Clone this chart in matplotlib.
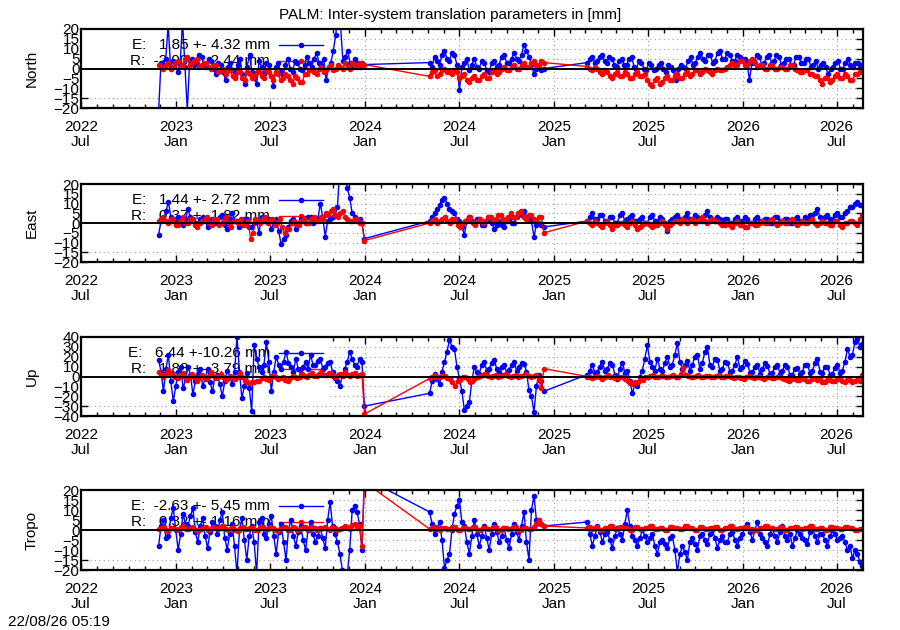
#!/usr/bin/env python

import numpy as np
import pandas as pd
import matplotlib

matplotlib.use("Agg")
import matplotlib.pyplot as plt
import matplotlib.dates as mdates
from matplotlib.dates import DateFormatter
from matplotlib.patches import Rectangle

plt.rcParams["font.family"] = ["Liberation Sans", "DejaVu Sans"]

# segment bounds (data gaps between them)
seg_a = ("2022-11-28", "2023-12-31")
seg_b = ("2024-05-05", "2024-12-12")
seg_c = ("2025-03-06", "2026-08-20")

# ---- North
north_e_a = [-22, 3, 2, 5, 22, 1, 4, 3, -2, 2, 24, 1, -21, 4, 5, 2, 3, 7, 6, 2, 1, 5, 4, 0, -3, 3, 2,
             -2, -6, 1, 3, -1, -4, 2, 5, -3, -8, 1, 7, -2, -5, -8, 4, 1, -3, 3, 2, -4, -9, 1, 3, -2,
             -4, 2, 5, 0, -2, 4, 3, 0, -1, 2, 6, 3, 1, 5, 8, 3, 2, 5, -6, 1, 3, 9, 17, 28, 22, 4, 6,
             9, 3, 2, 5, 3, 1, 3, 2]
north_r_a = [2, 1, 0, 2, 3, 0, 1, 3, 4, 1, 2, 5, 6, 2, 3, 4, 5, 1, 2, 3, 3, 1, 0, 2, 2, -2, -1, 0,
             -3, -1, -1, -4, -5, -2, -2, -5, -6, -2, -3, -5, -4, -2, -2, -4, -5, -1, -2, -4, -6, -2,
             -3, -6, -5, -3, -4, -6, -8, -4, -5, -7, -7, -3, -3, -1, -1, -2, -3, 0, 1, -2, -1, 1, 2,
             -1, 0, 2, 1, 0, 3, 1, 0, 3, 2, 1, 3, 2, 2]
north_e_b = [3, 1, 6, 4, 2, 7, 9, 5, 4, 8, 7, 2, -11, 1, 3, 5, -1, 2, 5, 1, 0, 4, 3, -1, -2, 3, 4,
             1, 2, 6, 7, 3, 3, 5, 8, 5, 4, 7, 12, 9, 6, 2, -3, 0, 1, -1, 0]
north_r_b = [-4, -2, -1, -4, -3, -1, 0, -2, -2, -3, -1, -2, -5, -4, -3, -6, -7, -5, -4, -6, -6, -4,
             -3, -5, -5, -2, -1, -3, -2, 0, 1, -1, -1, 1, 2, 0, 0, 2, 3, 1, 1, 3, 4, 2, 2, 4, 3]
north_e_c = [3, 5, 6, 3, 4, 6, 7, 4, 3, 6, 5, 2, 1, 4, 5, 2, 2, 5, 6, 1, 0, 4, 3, 0, -1, 3, 2, -1,
             0, 2, 3, 0, -2, 2, 1, -1, -6, 0, 2, 1, 0, 4, 6, 2, 3, 6, 8, 5, 4, 7, 7, 3, 4, 8, 9, 5,
             5, 8, 7, 4, 4, 7, 6, 5, 5, 3, -6, 3, 4, 7, 6, 2, 3, 6, 7, 3, 4, 7, 6, 2, 3, 5, 5, 2,
             2, 6, 6, 3, 3, 5, 5, 1, 2, 4, 0, 2, 3, 1, -3, 0, 1, 3, 4, 0, 0, 3, 5, 2, 1, 3, 3, 1, 2]
north_r_c = [1, 0, -1, 1, 0, -2, -3, -1, -2, -4, -5, -3, -2, -4, -4, -2, -3, -5, -5, -3, -2, -4, -4,
             -3, -6, -8, -9, -6, -5, -8, -7, -5, -4, -6, -6, -4, -3, -5, -5, -3, -2, -4, -3, -1, -1,
             -3, -2, 0, -1, -2, -3, -1, 0, -1, -1, 0, 1, 2, 3, 1, 2, 4, 4, 2, 2, 4, 5, 3, 1, 2, 2,
             0, 0, 2, 2, 0, 0, 1, 1, 0, 0, 2, 2, 0, -1, -2, -2, -1, -1, -3, -3, -4, -4, -6, -8, -5,
             -5, -7, -6, -4, -3, -5, -5, -3, -4, -6, -6, -3, -3, -2, -2]

# ---- East
east_e_a = [-6, 1, 2, 6, 11, 3, 1, 2, 3, 0, -1, 2, 7, 3, 2, 0, 0, 2, 3, 1, -2, 1, 2, 0, 0, 3, 4, -1,
            -3, 2, 5, 1, 1, -2, -1, 2, 2, -2, -2, 0, 1, -5, 3, 1, 1, 2, -3, 0, 2, -4, -11, -8, -6,
            -2, 1, 2, -3, 0, 2, 1, 0, 3, 3, 0, 1, 2, 10, 3, -7, 1, 2, 3, 4, 8, 30, 35, 25, 18, 13,
            5, 3, 1, 2, 0, -8]
east_r_a = [1, 2, 3, 1, 0, 2, 2, -1, -1, 1, 3, 0, 0, 2, 2, -1, -2, 0, 1, 2, 3, 0, -1, 2, 2, -1, 0,
            1, 3, 0, -2, 1, 1, 0, 2, -1, -1, 1, -8, -5, 2, 1, 0, 2, 3, 0, 1, 2, -1, 0, 2, -2, -5,
            -3, -3, 0, 1, -1, -1, 1, 2, 0, 0, 2, 3, 1, 1, 3, 2, 5, 4, 6, 7, 4, 3, 5, 6, 3, 2, 1, 1,
            2, 2, 0, 0, -9]
east_e_b = [1, 3, 5, 7, 9, 12, 13, 10, 7, 6, 5, 2, 1, -2, -6, 1, 3, 1, 0, 2, 2, -1, -1, 1, 3, 0,
            -3, -1, 1, -1, -2, 1, 2, 0, 0, 3, 5, 4, 6, 3, 2, 1, -7, -1, 0, -1, -2]
east_r_b = [0, 1, 2, 0, 1, 2, 3, 1, 0, 2, 2, -1, -2, 0, 1, 2, 3, 0, -1, 1, 2, 0, 1, 3, 3, 1, 2, 4,
            4, 2, 1, 3, 5, 3, 3, 5, 6, 3, 2, 4, 4, 2, 1, 3, 3, -5]
east_e_c = [1, 3, 5, 2, 2, 4, 4, 1, 1, 3, 3, 0, 0, 4, 5, 1, 2, 3, 4, 1, 1, 2, 3, 0, 0, 3, 4, 1, 1,
            3, 2, 0, -4, 1, 2, 3, 4, 2, 1, 3, 5, 2, 2, 4, 3, 1, 1, 4, 6, 3, 2, 1, 3, 2, 1, 2, 2, 0,
            0, 2, 3, 1, 1, 3, 2, 0, 0, 2, 3, 1, 1, 2, 2, 0, 0, 3, 3, 1, 1, 2, 2, 0, 0, 2, 3, 1, 1,
            3, 2, 4, 4, 5, 7, 3, 2, 3, 4, 2, 2, 4, 5, 3, 3, 5, 6, 8, 8, 10, 11, 9, 9]
east_r_c = [1, 0, -1, 1, 0, -1, -2, 0, 1, -1, -3, -1, -1, 0, 0, -1, -2, 0, 1, -1, -3, -2, -1, 0, 0,
            -1, -2, -1, -1, 0, 1, -1, -3, -1, 0, 1, 1, 0, 2, 1, 0, 1, 2, 0, 1, 2, 3, 1, 0, 1, 2, 1,
            1, 0, -1, -1, 0, -1, -2, 0, 1, -1, -1, -2, -2, 0, 0, -1, -1, 0, 1, 0, 0, 1, 2, 0, -1,
            0, 1, 0, 0, 1, 2, 0, -1, 0, 1, 0, 0, 1, 2, 0, -1, 0, 1, 0, 0, -1, -1, 1, 1, -1, -2, 0,
            0, 1, 1, 0, -1, 2, 4]

# ---- Up
up_e_a = [17, 5, -15, 8, 22, -5, -25, -10, 5, 10, -12, -3, 10, 2, -18, -5, 3, 8, -10, -2, 8, -6,
          -15, 0, 2, -8, -20, -5, 6, 0, -8, 5, 40, 5, -22, -10, 4, -12, -35, 32, 18, 10, 5, 12, 35,
          15, -15, 5, 20, 12, 8, 15, 25, 14, 10, 5, 18, 8, 2, 10, 15, 8, 22, 12, 12, 16, 18, 8, 10,
          14, 15, 5, -2, -5, -10, 2, 8, 15, 25, 18, 12, 10, 18, 15, -30]
up_r_a = [5, 2, 0, 3, 7, 4, 2, 0, -2, 2, 4, 0, -4, -1, 3, 0, -5, -2, 2, -1, -3, 1, 5, 1, -2, 0, 3,
          -1, -4, -2, 1, -1, -3, 0, 4, 0, -5, -6, -7, -6, -6, -5, -5, -2, 0, -3, -4, -1, 2, -1, -3,
          -2, -1, -4, -5, -2, 1, -1, -2, 0, 3, 1, 0, 2, 4, 1, 1, 3, 5, 2, 2, 4, 4, 1, 0, 2, 3, 1,
          5, 2, 1, 3, 4, 1, 2, 3, -38]
up_e_b = [-17, -5, 3, -3, -8, 5, 15, 25, 37, 30, 28, 10, -2, -15, -34, -30, -26, -5, 10, 5, 3, 12,
          15, 6, 8, 14, 17, 8, 5, 10, 12, 4, 7, 12, 15, 6, 10, 14, 13, 5, -14, -20, -36, -10, 2,
          -5, -15]
up_r_b = [-2, 0, 2, 0, -1, 1, 1, -2, -3, -6, -10, -5, -4, -1, 0, -3, -6, -4, -2, -1, 1, 2, 3, 1, 0,
          1, 2, 0, 1, 2, 3, 1, 0, 1, 2, 0, 1, 2, 3, 1, 0, 1, 2, -4, -12, 8]
up_e_c = [2, 6, 12, 4, 5, 10, 15, 6, 8, 14, 12, 2, -3, 8, 14, 4, 6, -5, -17, -8, -10, 0, 6, 18, 32,
          15, 10, 6, 18, 8, 6, 14, 20, 10, 12, 22, 34, 15, 8, 12, 16, 6, 12, 20, 22, 8, 14, 25, 30,
          12, 10, 18, 17, 6, 8, 15, 14, 5, 6, 12, 20, 8, 10, 16, 13, 4, 5, 10, 12, 3, 8, 14, 11, 3,
          4, 10, 12, 3, 6, 12, 10, 2, 2, 8, 9, 3, 5, 12, 12, 4, 6, 14, 18, 5, 4, 10, 10, 2, 3, 9,
          12, 4, 6, 15, 28, 20, 22, 35, 38, 30, 33]
up_r_c = [0, -1, -2, 0, 1, -1, -3, 0, 2, 0, -1, -2, -2, -1, 0, -3, -5, -7, -8, -6, -6, -4, -4, -1, 0,
          1, 2, 0, -1, 1, 1, -1, 0, 1, 2, 0, -1, 3, 9, 2, 1, 0, -1, 1, 2, 0, 0, 1, 1, -1, -1, 1, 2,
          0, 0, 1, 1, -1, -2, 0, 0, -2, -3, -1, 1, -1, -2, 0, 0, -2, -3, -1, -1, -2, -2, 0, 0, -2,
          -3, -4, -5, -3, -2, -4, -4, -2, -3, -5, -5, -3, -2, -4, -3, -6, -6, -4, -4, -5, -5, -3,
          -3, -5, -6, -4, -4, -6, -5, -4, -5, 2]

# ---- Tropo
tropo_e_a = [-8, 2, 5, -4, -3, 6, 11, 0, -10, -2, 8, 3, 2, 7, 11, -1, -6, 2, 6, -3, -9, -1, 4, 2,
             -2, 5, 9, -4, -10, -2, 3, -8, -22, 0, 6, -5, -15, -3, 2, -6, -22, 4, 6, -2, -4, 3, 7,
             -3, -12, -1, 3, -6, -15, 0, 5, -3, -8, -1, 2, -5, -10, 0, 4, -2, -6, -3, 1, -4, -9, 5,
             14, 2, -2, -6, -12, -20, -26, -22, -10, 10, 12, 9, 3, -10, 26]
tropo_r_a = [0.5, 1, 1.5, 0, -0.5, 1, 1, 0.5, 0, 1.5, 2, 0.5, 0.5, 1, 1.5, 0, -0.5, 0.5, 1, 1.5, 0,
             0.5, 1.5, 1, 0.5, 1.5, 2, 0.5, 0, 1, 1, 0, -0.5, 1, 1.5, 0.5, 0.5, 1, 1, 0, 0, 1.5,
             1.5, 0.5, 0.5, 1.5, 1, 0, -0.5, 0.5, 1, 1.5, 0.5, 0, 1.5, 1, 0, 0.5, 1, 1.5, 0.5, 0,
             1.5, 1, 0, 0.5, 1, 1.5, 0.5, 0, 1.5, 1, 0, 0.5, 1, 2, 1.5, 0.5, 2.5, 3, 1, 2, -8, 24]
tropo_e_b = [9, 3, -2, 1, 4, -5, -19, -15, -12, 0, 8, 12, 15, 4, 2, -6, -12, -3, 5, -2, -8, -3, 2,
             -4, -10, -2, 3, -1, -6, -3, 1, -5, -9, -2, 3, -1, -5, 2, 9, -6, -15, 10, 17, 5, 5, 3, 2]
tropo_r_b = [0.5, 1, 1.5, 0.5, 0, 1, 1, 0.5, 0.5, 1.5, 1.5, 0, 0, 1, 1, 0.5, 0.5, 1.5, 1.5, 0, 0, 1,
             1, 0.5, 0.5, 1.5, 1.5, 0, 0, 1, 1, 0.5, 0.5, 1.5, 1.5, 0, 0, 1, 1, 0.5, 0.5, 1.5, 3, 5,
             3, 2]
tropo_e_c = [4, -2, -8, -3, 2, -1, -6, -2, -1, -5, -9, -3, 1, -2, -5, 3, 10, 2, -3, -5, -8, -4, 0,
             -3, -6, -4, -2, -8, -12, -6, -5, -7, -9, -4, -3, -10, -21, -12, -8, -11, -15, -6, -4,
             -7, -10, -3, -2, -5, -7, -2, 0, -4, -9, -5, -3, -6, -6, -2, -1, -5, -8, -4, -2, 1, 3,
             -1, -5, 0, 4, -2, -4, -6, -8, -2, 1, -3, -6, -1, 2, -3, -5, -2, -8, -4, 0, -2, -4, -5,
             -7, -1, 1, -3, -6, -2, -2, -5, -8, -3, 0, -2, -5, -4, -3, -6, -10, -8, -14, -10, -12,
             -16, -18]
tropo_r_c = [1, 1.5, 0.5, 1, 1.5, 0, 0, 1, 1, 2, 2, 0.5, 0.5, 1.5, 1.5, 1, 1, 0, 0, 1.5, 1.5, 0.5,
             0.5, 1, 1, 2, 2, 0.5, 0.5, 1, 1, 0, 0, 1.5, 1.5, 1, 1, 0.5, 0.5, 2, 2, 1, 1, 0, 0, 1.5,
             1.5, 0.5, 0.5, 1, 1, 1.5, 1.5, 0, 0, 1, 1, 2, 2, 0.5, 0.5, 1, 1, 1.5, 1.5, 0.5, 0.5, 0,
             0, 1, 1, 2, 2, 1, 1, 0.5, 0.5, 1.5, 1.5, 0, 0, 1, 1, 1.5, 1.5, 0.5, 0.5, 1, 1, 2, 2,
             0.5, 0.5, 1, 1, 0, 0, 1.5, 1.5, 1, 1, 0.5, 0.5, 1.5, 1.5, 1, 1, 0, 0, 0.5, 0.5]

panel_names = ["North", "East", "Up", "Tropo"]
e_stats = ["E:   1.85 +- 4.32 mm", "E:   1.44 +- 2.72 mm", "E:   6.44 +-10.26 mm", "E:  -2.63 +- 5.45 mm"]
r_stats = ["R:  -2.00 +- 2.44 mm", "R:   0.37 +- 1.82 mm", "R:   1.88 +- 3.79 mm", "R:   0.32 +- 1.16 mm"]
y_limits = [20, 20, 40, 20]
y_steps = [5, 5, 10, 5]
e_data = [
    (north_e_a, north_e_b, north_e_c),
    (east_e_a, east_e_b, east_e_c),
    (up_e_a, up_e_b, up_e_c),
    (tropo_e_a, tropo_e_b, tropo_e_c),
]
r_data = [
    (north_r_a, north_r_b, north_r_c),
    (east_r_a, east_r_b, east_r_c),
    (up_r_a, up_r_b, up_r_c),
    (tropo_r_a, tropo_r_b, tropo_r_c),
]


def make_series(parts):
    dates = []
    vals = []
    for seg, v in zip([seg_a, seg_b, seg_c], parts):
        dates.extend(pd.date_range(seg[0], seg[1], periods=len(v)))
        vals.extend(v)
    return pd.Series(vals, index=pd.DatetimeIndex(dates))


fg = plt.figure(figsize=(9, 6.3), dpi=100)
# panel boxes in pixels (top, bottom)
panel_px = [(29, 108), (184, 262), (337, 416), (490, 570)]
x0, x1 = 81, 863

for i in range(4):
    top, bot = panel_px[i]
    ax = fg.add_axes([x0 / 900, 1 - bot / 630, (x1 - x0) / 900, (bot - top) / 630])
    ylim = y_limits[i]
    ax.set_ylim(-ylim, ylim)
    ax.set_xlim(pd.Timestamp("2022-07-01"), pd.Timestamp("2026-08-21"))
    ax.set_yticks(np.arange(-ylim, ylim + 1, y_steps[i]))
    ax.xaxis.set_major_locator(mdates.MonthLocator(bymonth=[1, 7]))
    ax.xaxis.set_minor_locator(mdates.MonthLocator())
    ax.xaxis.set_major_formatter(DateFormatter("%Y\n%b"))
    ax.tick_params(axis="both", which="both", direction="in", top=True, right=True, labelsize=11)
    ax.tick_params(axis="both", which="major", length=5, width=1)
    ax.tick_params(axis="x", which="minor", length=3, width=1)
    ax.tick_params(axis="x", which="major", pad=8.5)
    ax.tick_params(axis="y", which="major", pad=1)
    for lbl in ax.get_xticklabels():
        lbl.set_linespacing(1.1)
    for sp in ax.spines.values():
        sp.set_linewidth(1.6)
    ax.grid(which="major", linestyle=(0, (1, 3)), color="#a0a0a0", linewidth=0.8, zorder=0)
    ax.set_axisbelow(True)

    # opaque key box hides the grid behind the stats
    ax.add_patch(Rectangle((0, 0.16), 0.318, 0.84, transform=ax.transAxes,
                           facecolor="white", edgecolor="none", zorder=0.8))

    ax.axhline(0, color="black", linewidth=1.4, zorder=3)

    ye = 1 - 16 / (bot - top)
    yr = 1 - 32 / (bot - top)
    ax.text(0.242, ye, e_stats[i], transform=ax.transAxes, ha="right", va="center",
            fontsize=11, zorder=1)
    ax.text(0.242, yr, r_stats[i], transform=ax.transAxes, ha="right", va="center",
            fontsize=11, zorder=1)
    ax.plot([0.253, 0.309], [ye, ye], transform=ax.transAxes, color="#0000ff", lw=1, zorder=2)
    ax.plot([0.281], [ye], transform=ax.transAxes, color="#0000ff", marker="o", ms=3, zorder=2)
    ax.plot([0.253, 0.309], [yr, yr], transform=ax.transAxes, color="#ff0000", lw=1, zorder=2)
    ax.plot([0.281], [yr], transform=ax.transAxes, color="#ff0000", marker="o", ms=3, zorder=2)

    se = make_series(e_data[i])
    sr = make_series(r_data[i])
    ax.plot(se.index, se.values, color="#0000ff", lw=1, marker="o", ms=3, mec="#0000ff", zorder=2)
    ax.plot(sr.index, sr.values, color="#ff0000", lw=1, marker="o", ms=3, mec="#ff0000", zorder=2.1)

    fg.text(32 / 900, 1 - (top + bot) / 2 / 630, panel_names[i], rotation=90,
            ha="center", va="center", fontsize=11)

fg.text(0.5, 1 - 15 / 630, "PALM: Inter-system translation parameters in [mm]",
        ha="center", va="center", fontsize=11)
fg.text(8 / 900, 1 - 622 / 630, "22/08/26 05:19", ha="left", va="center", fontsize=11)

fg.savefig("out.png", dpi=100)
plt.close(fg)
